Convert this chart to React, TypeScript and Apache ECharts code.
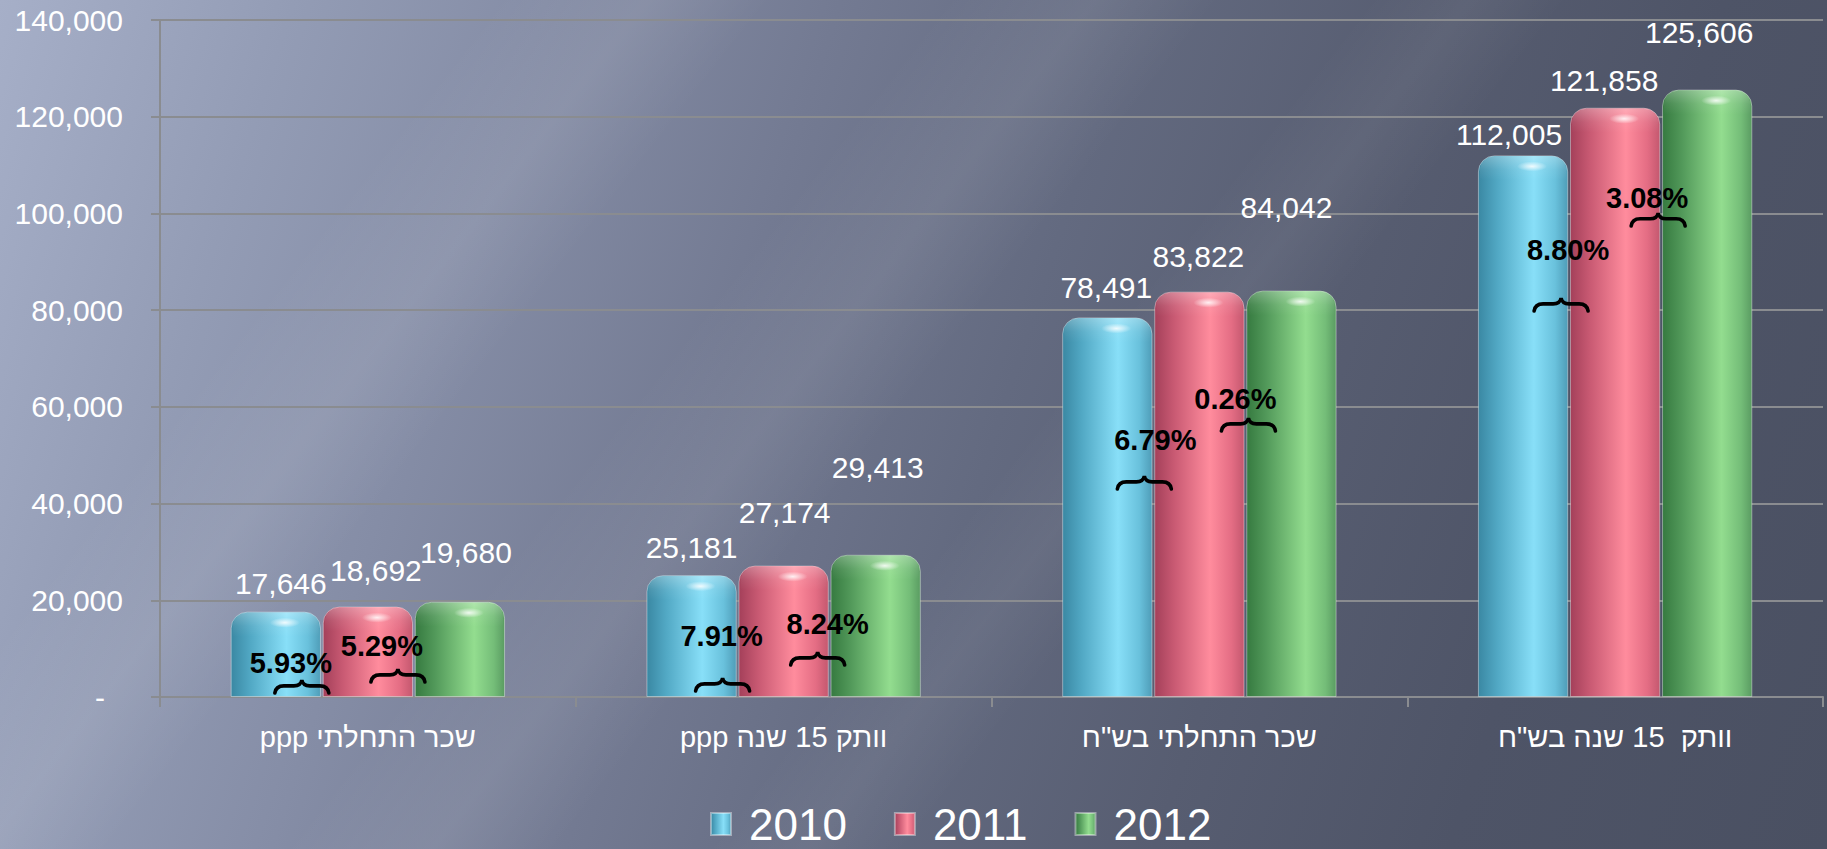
import React, { useEffect, useRef } from "react";
import * as echarts from "echarts";

// ---- data ----
const categories = ["שכר התחלתי ppp", "וותק 15 שנה ppp", 'שכר התחלתי בש"ח', 'וותק  15 שנה בש"ח'];
const seriesNames = ["2010", "2011", "2012"];
const values2010 = [17646, 25181, 78491, 112005];
const values2011 = [18692, 27174, 83822, 121858];
const values2012 = [19680, 29413, 84042, 125606];
const yTicks = [0, 20000, 40000, 60000, 80000, 100000, 120000, 140000];

const growthLabels = ["5.93%", "5.29%", "7.91%", "8.24%", "6.79%", "0.26%", "8.80%", "3.08%"];
const growthCategory = [0, 0, 1, 1, 2, 2, 3, 3];
const growthPair = [0, 1, 0, 1, 0, 1, 0, 1];

// ---- layout (annotation placement, in value units / px) ----
const growthTextY = [7030, 10550, 12600, 15100, 53100, 61600, 92400, 103200];
const growthBraceY = [3515, 5790, 3930, 9300, 45700, 57700, 82500, 100100];
const growthTextDx = [-31, -32, -16, -2, 2, -10, -1, -14];
const growthBraceDx = [-20, -16, -15, -12, -9, 3, -8, -3];
const labelDx = [
  [5, 0, -1, -14],
  [8, 1, -1, -11],
  [6, 2, -5, -8],
];
const labelDy = [
  [-13, -13, -15, -6],
  [-21, -38, -20, -12],
  [-34, -72, -68, -42],
];

const FONT = '"Liberation Sans", Arial, sans-serif';

const gradients = [
  [
    [0, "#3a88a3"],
    [0.22, "#52a9c5"],
    [0.62, "#88dff8"],
    [0.86, "#69c1dc"],
    [1, "#4f9db8"],
  ],
  [
    [0, "#a4405a"],
    [0.22, "#c95a73"],
    [0.62, "#ff8c9d"],
    [0.86, "#e46d84"],
    [1, "#c4586f"],
  ],
  [
    [0, "#367a40"],
    [0.22, "#52995a"],
    [0.66, "#93dd8f"],
    [0.88, "#74bd78"],
    [1, "#5a9c62"],
  ],
];

const fmt = (v: number) => v.toLocaleString("en-US");

export default function App() {
  const ref = useRef<HTMLDivElement>(null);

  useEffect(() => {
    if (!ref.current) return;
    const chart = echarts.init(ref.current, null, { renderer: "svg" });
    const allValues = [values2010, values2011, values2012];

    const barSeries = allValues.map((vals, si) => ({
      name: seriesNames[si],
      type: "bar",
      barGap: "2%",
      barCategoryGap: "34%",
      z: 2,
      data: vals.map((v, ci) => ({
        value: v,
        label: { offset: [labelDx[si][ci], labelDy[si][ci]] },
      })),
      itemStyle: {
        color: new echarts.graphic.LinearGradient(
          0,
          0,
          1,
          0,
          gradients[si].map(([o, c]) => ({ offset: o as number, color: c as string }))
        ),
        borderRadius: [16, 16, 0, 0],
        borderColor: "rgba(255,255,255,0.4)",
        borderWidth: 1,
      },
      label: {
        show: true,
        position: "top",
        distance: 0,
        color: "#ffffff",
        fontSize: 30,
        fontFamily: FONT,
        formatter: (p: any) => fmt(Number(p.value)),
      },
    }));

    // top-of-bar highlight (glossy cylinder cap), placed through the axes
    const highlightData: number[][] = [];
    allValues.forEach((vals, si) => vals.forEach((v, ci) => highlightData.push([ci, v, si])));
    const highlightSeries = {
      type: "custom",
      name: "highlight",
      z: 3,
      silent: true,
      data: highlightData,
      encode: { x: 0, y: 1 },
      renderItem: (params: any, api: any) => {
        const ci = api.value(0);
        const v = api.value(1);
        const si = api.value(2);
        const center = api.coord([ci, 0])[0];
        const band = api.size([1, 0])[0];
        const w = (band * 0.66) / 3.04;
        const bc = center + (si - 1) * 1.02 * w;
        const top = api.coord([ci, v])[1];
        return {
          type: "group",
          children: [
            {
              type: "rect",
              shape: { x: bc - w / 2 + 2, y: top + 1, width: w - 4, height: 24, r: [14, 14, 0, 0] },
              style: {
                fill: new echarts.graphic.LinearGradient(0, 0, 0, 1, [
                  { offset: 0, color: "rgba(255,255,255,0.26)" },
                  { offset: 0.55, color: "rgba(255,255,255,0.07)" },
                  { offset: 1, color: "rgba(255,255,255,0)" },
                ]),
              },
            },
            {
              type: "ellipse",
              shape: { cx: bc + 0.1 * w, cy: top + 11, rx: 15, ry: 5 },
              style: {
                fill: new echarts.graphic.RadialGradient(0.5, 0.5, 0.5, [
                  { offset: 0, color: "rgba(255,255,255,0.85)" },
                  { offset: 1, color: "rgba(255,255,255,0)" },
                ]),
              },
            },
          ],
        };
      },
    };

    const annotationSeries = {
      type: "custom",
      name: "growth",
      z: 5,
      silent: true,
      clip: false,
      data: growthCategory.map((c, i) => [c, growthPair[i]]),
      encode: { x: 0, y: 1 },
      renderItem: (params: any, api: any) => {
        const i = params.dataIndex;
        const cat = api.value(0);
        const pair = api.value(1);
        const center = api.coord([cat, 0])[0];
        const band = api.size([1, 0])[0];
        const w = (band * 0.66) / 3.04;
        const boundary = center + (pair === 0 ? -0.51 * w : 0.51 * w);
        const ty = api.coord([cat, growthTextY[i]])[1];
        const by = api.coord([cat, growthBraceY[i]])[1];
        const tx = boundary + growthTextDx[i];
        const xc = boundary + growthBraceDx[i];
        const W = 54;
        const H = 13;
        const m = by + H * 0.45;
        const x0 = xc - W / 2;
        const x1 = xc + W / 2;
        const d =
          `M ${x0} ${by + H} Q ${x0 + 1} ${m} ${x0 + 9} ${m} L ${xc - 8} ${m} ` +
          `Q ${xc - 1} ${m} ${xc} ${by} Q ${xc + 1} ${m} ${xc + 8} ${m} L ${x1 - 9} ${m} ` +
          `Q ${x1 - 1} ${m} ${x1} ${by + H}`;
        return {
          type: "group",
          children: [
            {
              type: "text",
              style: {
                text: growthLabels[i],
                x: tx,
                y: ty,
                align: "center",
                verticalAlign: "middle",
                font: `bold 29px ${FONT}`,
                fill: "#000000",
              },
            },
            {
              type: "path",
              shape: { pathData: d },
              style: { stroke: "#000000", lineWidth: 3.6, fill: "none", lineCap: "round" },
            },
          ],
        };
      },
    };

    chart.setOption({
      animation: false,
      backgroundColor: "transparent",
      grid: { left: 160, right: 4, top: 20, bottom: 152, containLabel: false },
      legend: {
        data: seriesNames,
        left: 705,
        top: 797,
        itemWidth: 20,
        itemHeight: 22,
        itemGap: 47,
        icon: "rect",
        textStyle: {
          color: "#ffffff",
          fontSize: 44,
          lineHeight: 42,
          fontFamily: FONT,
          padding: [0, 0, 0, 13],
        },
      },
      xAxis: {
        type: "category",
        data: categories,
        axisLine: { show: true, lineStyle: { color: "#8a8c90", width: 2 } },
        axisTick: { show: true, length: 10, lineStyle: { color: "#8a8c90", width: 2 } },
        axisLabel: {
          color: "#ffffff",
          fontSize: 29,
          fontFamily: FONT,
          margin: 25,
          interval: 0,
          formatter: (v: string) => "\u202B" + v + "\u202C",
        },
      },
      yAxis: {
        type: "value",
        min: yTicks[0],
        max: yTicks[yTicks.length - 1],
        interval: yTicks[1] - yTicks[0],
        axisLine: { show: true, lineStyle: { color: "#8a8c90", width: 2 } },
        axisTick: { show: true, length: 9, lineStyle: { color: "#8a8c90", width: 2 } },
        splitLine: { show: true, lineStyle: { color: "#8a8c90", width: 2 } },
        axisLabel: {
          color: "#ffffff",
          fontSize: 30,
          fontFamily: FONT,
          margin: 37,
          formatter: (v: number) => (v === 0 ? "{d|-}" : fmt(v)),
          rich: {
            d: { color: "#ffffff", fontSize: 30, fontFamily: FONT, padding: [0, 18, 0, 0] },
          },
        },
      },
      series: [...barSeries, highlightSeries, annotationSeries],
    });

    return () => chart.dispose();
  }, []);

  return (
    <div
      style={{
        position: "fixed",
        left: 0,
        top: 0,
        width: 1827,
        height: 849,
        background:
          "linear-gradient(128deg, rgba(255,255,255,0) 20%, rgba(255,255,255,0.08) 26%, rgba(255,255,255,0) 31%, rgba(255,255,255,0) 38%, rgba(255,255,255,0.07) 44%, rgba(255,255,255,0) 49%, rgba(255,255,255,0) 55%, rgba(255,255,255,0.05) 59%, rgba(255,255,255,0) 63%)," +
          "linear-gradient(108deg, #a6afc8 0%, #939cb5 14%, #858da6 26%, #737a92 40%, #636a80 54%, #575d71 68%, #4e5467 82%, #4a5062 100%)",
      }}
    >
      <div ref={ref} style={{ width: 1827, height: 849 }} />
    </div>
  );
}
